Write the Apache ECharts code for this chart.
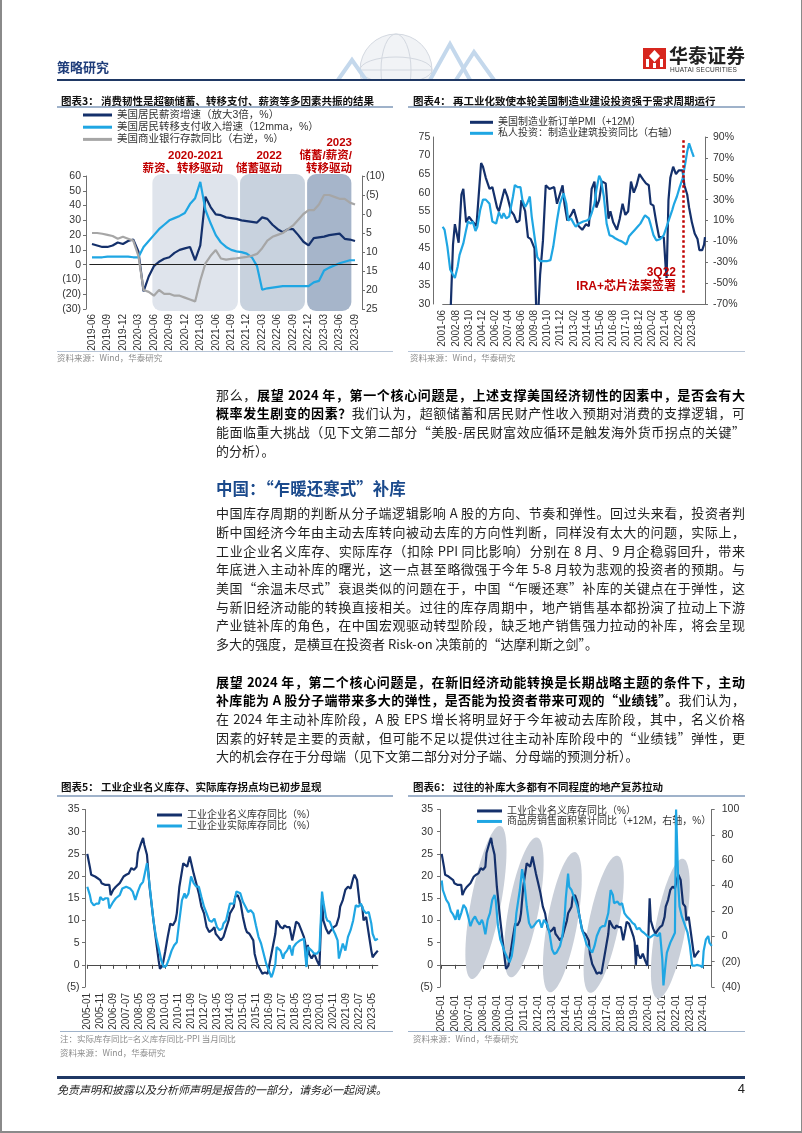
<!DOCTYPE html>
<html><head><meta charset="utf-8">
<script src="https://cdn.jsdelivr.net/npm/echarts@6/dist/echarts.min.js"></script>
<style>
html,body{margin:0;padding:0;background:#fff;}
#page{position:relative;width:802px;height:1133px;overflow:hidden;font-family:"Noto Sans CJK SC","Liberation Sans",sans-serif;color:#222;}
#chart{position:absolute;left:0;top:0;width:802px;height:1133px;}
.t{position:absolute;white-space:nowrap;}
.hl{position:absolute;}
.ttl{font-size:10.5px;font-weight:bold;color:#111;line-height:14px;}
.src{font-size:8.5px;color:#8c8c8c;line-height:12px;}
.red{font-size:11.5px;font-weight:bold;color:#c00000;line-height:14px;text-align:right;font-family:"Liberation Sans","Noto Sans CJK SC",sans-serif;}
.body{position:absolute;left:216px;width:529px;font-size:13px;line-height:18.7px;color:#222;}
.body .ln{height:18.7px;text-align:justify;text-align-last:justify;}
.body .ln.last{text-align-last:left;}
.body b{color:#000;}
</style></head>
<body><div id="page">
<div id="chart"></div>

<!-- header -->
<svg class="t" style="left:318px;top:30px" width="180" height="50">
 <g fill="none" stroke="#d3d8e0" stroke-width="1">
  <circle cx="78" cy="40" r="36" fill="#f1f3f6"/>
  <ellipse cx="78" cy="40" rx="36" ry="13"/>
  <ellipse cx="78" cy="40" rx="15" ry="36"/>
  <line x1="42" y1="40" x2="114" y2="40"/>
 </g>
 <g fill="none" stroke="#c4d8ec" stroke-width="4">
  <polyline points="112,50 132,14 152,50"/>
  <polyline points="138,50 156,22 176,50"/>
  <polyline points="20,50 34,30 48,50"/>
 </g>
</svg>
<div class="t" style="left:57px;top:58px;font-size:13px;font-weight:bold;color:#1f3d7a;line-height:18px">策略研究</div>
<svg class="t" style="left:643px;top:48px" width="23" height="21">
 <rect x="0" y="0" width="23" height="21" fill="#d7261e"/>
 <polygon points="11.5,2 17,8 11.5,14 6,8" fill="#fff"/>
 <rect x="3" y="11" width="3" height="8" fill="#fff"/>
 <rect x="17" y="11" width="3" height="8" fill="#fff"/>
 <rect x="10" y="15" width="3" height="5" fill="#fff"/>
</svg>
<div class="t" style="left:669px;top:44px;font-size:19px;font-weight:bold;color:#222;line-height:22px">华泰证券</div>
<div class="t" style="left:670px;top:66px;font-size:6.5px;color:#333;line-height:8px;letter-spacing:0.2px;font-family:'Liberation Sans'">HUATAI SECURITIES</div>
<div class="hl" style="left:57px;top:79px;width:688px;height:2px;background:#1f3864"></div>

<!-- chart titles / lines -->
<div class="t ttl" style="left:61px;top:94px">图表3： 消费韧性是超额储蓄、转移支付、薪资等多因素共振的结果</div>
<div class="hl" style="left:57px;top:106px;width:336px;height:1.5px;background:#9fb2ca"></div>
<div class="t ttl" style="left:413px;top:94px">图表4： 再工业化致使本轮美国制造业建设投资强于需求周期运行</div>
<div class="hl" style="left:408px;top:106px;width:337px;height:1.5px;background:#9fb2ca"></div>
<div class="hl" style="left:57px;top:351px;width:336px;height:1px;background:#b7c4d6"></div>
<div class="hl" style="left:408px;top:351px;width:337px;height:1px;background:#b7c4d6"></div>
<div class="t src" style="left:57px;top:351px">资料来源：Wind，华泰研究</div>
<div class="t src" style="left:410px;top:351px">资料来源：Wind，华泰研究</div>

<!-- chart 3 annotations -->
<div class="t red" style="right:579px;top:148px">2020-2021</div>
<div class="t red" style="right:579px;top:161px">薪资、转移驱动</div>
<div class="t red" style="right:520px;top:148px">2022</div>
<div class="t red" style="right:520px;top:161px">储蓄驱动</div>
<div class="t red" style="right:450px;top:135px">2023</div>
<div class="t red" style="right:450px;top:148px">储蓄/薪资/</div>
<div class="t red" style="right:450px;top:161px">转移驱动</div>
<!-- chart 4 annotations -->
<div class="t red" style="right:126px;top:265px;font-size:12px">3Q22</div>
<div class="t red" style="right:126px;top:279px;font-size:12px">IRA+芯片法案签署</div>

<!-- body -->
<div class="body" style="top:385.6px">
 <div class="ln">那么，<b>展望 2024 年，第一个核心问题是，上述支撑美国经济韧性的因素中，是否会有大</b></div>
 <div class="ln"><b>概率发生剧变的因素？</b>我们认为，超额储蓄和居民财产性收入预期对消费的支撑逻辑，可</div>
 <div class="ln">能面临重大挑战（见下文第二部分“美股-居民财富效应循环是触发海外货币拐点的关键”</div>
 <div class="ln last">的分析）。</div>
</div>
<div class="t" style="left:216px;top:476px;font-size:16.5px;line-height:24px;color:#1b4a8c;font-weight:bold">中国：“乍暖还寒式”补库</div>
<div class="body" style="top:504.2px">
 <div class="ln">中国库存周期的判断从分子端逻辑影响 A 股的方向、节奏和弹性。回过头来看，投资者判</div>
 <div class="ln">断中国经济今年由主动去库转向被动去库的方向性判断，同样没有太大的问题，实际上，</div>
 <div class="ln">工业企业名义库存、实际库存（扣除 PPI 同比影响）分别在 8 月、9 月企稳弱回升，带来</div>
 <div class="ln">年底进入主动补库的曙光，这一点甚至略微强于今年 5-8 月较为悲观的投资者的预期。与</div>
 <div class="ln">美国“余温未尽式”衰退类似的问题在于，中国“乍暖还寒”补库的关键点在于弹性，这</div>
 <div class="ln">与新旧经济动能的转换直接相关。过往的库存周期中，地产销售基本都扮演了拉动上下游</div>
 <div class="ln">产业链补库的角色，在中国宏观驱动转型阶段，缺乏地产销售强力拉动的补库，将会呈现</div>
 <div class="ln last">多大的强度，是横亘在投资者 Risk-on 决策前的“达摩利斯之剑”。</div>
</div>
<div class="body" style="top:672.6px">
 <div class="ln"><b>展望 2024 年，第二个核心问题是，在新旧经济动能转换是长期战略主题的条件下，主动</b></div>
 <div class="ln"><b>补库能为 A 股分子端带来多大的弹性，是否能为投资者带来可观的“业绩钱”。</b>我们认为，</div>
 <div class="ln">在 2024 年主动补库阶段，A 股 EPS 增长将明显好于今年被动去库阶段，其中，名义价格</div>
 <div class="ln">因素的好转是主要的贡献，但可能不足以提供过往主动补库阶段中的“业绩钱”弹性，更</div>
 <div class="ln last">大的机会存在于分母端（见下文第二部分对分子端、分母端的预测分析）。</div>
</div>

<div class="t ttl" style="left:61px;top:780px">图表5： 工业企业名义库存、实际库存拐点均已初步显现</div>
<div class="hl" style="left:57px;top:795px;width:336px;height:1.5px;background:#9fb2ca"></div>
<div class="t ttl" style="left:413px;top:780px">图表6： 过往的补库大多都有不同程度的地产复苏拉动</div>
<div class="hl" style="left:408px;top:795px;width:337px;height:1.5px;background:#9fb2ca"></div>
<div class="hl" style="left:60px;top:1031px;width:333px;height:1px;background:#9fb2ca"></div>
<div class="hl" style="left:408px;top:1031px;width:337px;height:1px;background:#9fb2ca"></div>
<div class="t src" style="left:60px;top:1032px">注：实际库存同比=名义库存同比-PPI 当月同比</div>
<div class="t src" style="left:60px;top:1046px">资料来源：Wind，华泰研究</div>
<div class="t src" style="left:413px;top:1032px">资料来源：Wind，华泰研究</div>

<!-- footer -->
<div class="hl" style="left:57px;top:1076px;width:688px;height:2.5px;background:#1f3864"></div>
<div class="t" style="left:57px;top:1081px;font-size:11px;font-style:italic;line-height:16px;color:#222">免责声明和披露以及分析师声明是报告的一部分，请务必一起阅读。</div>
<div class="t" style="right:57px;top:1081px;font-size:13px;line-height:16px;color:#222;font-family:'Liberation Sans'">4</div>
<div class="hl" style="left:0;top:0;width:1.5px;height:1133px;background:#8a8a8a"></div>
<div class="hl" style="right:0;top:0;width:1.5px;height:1133px;background:#8a8a8a"></div>
<div class="hl" style="left:0;top:1131px;width:802px;height:1.5px;background:#8a8a8a"></div>
</div>

<script>
// ================= DATA =================
function monthRange(a, b) {
  let [y, m] = a.split('-').map(Number);
  const [y2, m2] = b.split('-').map(Number);
  const out = [];
  while (y < y2 || (y === y2 && m <= m2)) {
    out.push(y + '-' + String(m).padStart(2, '0'));
    m++; if (m > 12) { m = 1; y++; }
  }
  return out;
}

// ---- Chart 3 (monthly 2019-06 .. 2023-09)
const dates3 = monthRange('2019-06', '2023-09');
const wage3 = [14,13,12,12,13,15,14,16,17,9,
  -18,-8,-1,2,4,5,8,10,11,12,
  3,13,46,39,34,33.5,32,31.5,31,30,
  29.5,29,28.5,32,31,27,24,22,24,24,
  20,15.5,13,18,18.5,19,20,20.5,21,17.5,
  17,16];
const transfer3 = [5,5,5,5.5,5.5,5.5,5.5,5.5,5,5,
  12,16,20,24,27,30,31.5,33,35,41,
  45,56,37,28,20,15,12,10,9,8.5,
  7.5,5,-1,-17,-16,-15.5,-15,-14.5,-14.5,-14.5,
  -14.5,-14.5,-14.5,-12,-11,-4,-2,-0.5,1,2,
  3,3];
const deposit3 = [5,5,5.2,5.5,5.8,6.5,6,6.5,7,11,
  20,20.5,21.5,20,21,21,21.5,21.5,22,22.5,
  23,17.5,13,11,9.5,11.7,12,11.8,11.7,11.5,
  11.3,11,10.5,9,7,6,5.5,5,4,3,
  1.5,0,-1,-1,-2.5,-5,-5,-4.5,-4,-4,
  -3,-2.5];
const shade3 = [['2020-06','2021-10'],['2021-11','2022-11'],['2022-12','2023-08']];
const names3 = ['美国居民薪资增速（放大3倍，%）','美国居民转移支付收入增速（12mma，%）','美国商业银行存款同比（右逆，%）'];

// ---- Chart 4 (monthly axis 2001-06 .. 2024-10; labels 2001-06 .. 2023-08 every 14 months)
const dates4 = monthRange('2001-06', '2024-10');
const lastLabel4 = '2023-08';
const pmi4 = [['2002-02',25],['2002-05',46],['2002-07',51.5],['2002-09',49],['2002-11',46.5],['2003-02',59.5],['2003-04',61],['2003-07',52],['2003-10',53.5],['2004-01',52.5],['2004-06',51],['2004-11',68],['2005-01',67],['2005-04',64],['2005-08',61],['2005-11',61.5],['2006-04',56],['2006-06',55],['2006-09',58],['2006-12',61],['2007-03',59],['2007-07',55],['2007-10',54],['2008-01',52],['2008-04',52.5],['2008-06',58],['2008-10',55],['2009-01',48],['2009-04',47.5],['2009-06',48],['2009-08',45],['2009-10',27],['2009-12',28],['2010-02',38],['2010-05',47],['2010-08',62],['2010-12',61],['2011-02',60.5],['2011-05',61.5],['2011-08',57],['2011-11',59.5],['2012-02',62],['2012-04',57],['2012-07',52.5],['2012-11',54],['2013-02',55.5],['2013-04',55],['2013-07',51],['2013-11',50],['2014-03',51.5],['2014-06',51],['2014-09',61],['2014-12',63],['2015-02',56],['2015-05',58],['2015-08',63],['2015-12',62.5],['2016-03',53],['2016-05',55],['2016-08',52],['2016-12',50],['2017-03',53],['2017-06',57],['2017-09',54],['2017-12',55],['2018-03',63],['2018-06',60],['2018-09',62],['2018-12',65],['2019-04',63.5],['2019-07',62.5],['2019-10',62],['2019-12',57],['2020-03',56.5],['2020-06',52],['2020-09',48],['2021-02',48],['2021-04',40],['2021-05',37],['2021-07',58],['2021-09',64],['2021-12',67],['2022-03',65],['2022-06',66],['2022-10',66],['2022-12',62],['2023-03',59.5],['2023-05',56],['2023-08',52],['2023-11',49],['2024-02',47.5],['2024-04',44.5],['2024-07',44.5],['2024-09',46],['2024-10',48]];
const invest4 = [['2001-06',4],['2001-08',1],['2001-11',-15],['2002-02',-37],['2002-05',-42],['2002-07',-45],['2002-10',-34],['2002-12',-23],['2003-04',-12],['2003-07',1],['2003-09',9],['2003-12',7],['2004-02',9],['2004-05',0],['2004-07',4],['2004-10',20],['2005-01',30],['2005-04',30],['2005-08',26],['2005-11',9],['2006-03',7],['2006-06',18],['2006-09',12],['2006-11',17],['2007-02',12],['2007-05',14],['2007-09',33],['2007-11',44],['2008-02',42],['2008-05',42],['2008-07',30],['2008-10',23],['2008-12',26],['2009-03',33],['2009-05',14],['2009-09',-12],['2009-11',-25],['2010-02',-29],['2010-09',-29],['2011-01',-28],['2011-04',-15],['2011-08',10],['2011-11',26],['2012-03',36],['2012-06',26],['2012-08',10],['2012-11',12],['2013-02',7],['2013-04',4],['2013-07',7],['2013-09',7],['2013-12',9],['2014-04',10],['2014-07',12],['2014-09',17],['2014-12',26],['2015-02',39],['2015-05',53],['2015-07',49],['2015-10',33],['2016-01',7],['2016-04',-4],['2016-07',-5],['2016-10',-7],['2017-02',-9],['2017-05',-10],['2017-10',-13],['2018-01',-5],['2018-04',-2],['2018-07',1],['2018-10',4],['2019-01',7],['2019-04',12],['2019-06',15],['2019-10',12],['2019-12',6],['2020-03',-4],['2020-06',-9],['2020-10',-8],['2021-02',-4],['2021-05',4],['2021-08',12],['2021-11',20],['2022-01',26],['2022-04',33],['2022-07',42],['2022-10',50],['2023-01',65],['2023-03',76],['2023-05',84],['2023-08',76],['2023-10',71]];
const signDate4 = '2022-11';
const names4 = ['美国制造业新订单PMI（+12M）','私人投资：制造业建筑投资同比（右轴）'];

// ---- Chart 5 (monthly axis 2005-01 .. 2023-09)
const dates5 = monthRange('2005-01', '2023-09');
const nominalInv = [['2005-01',25],['2005-03',22],['2005-04',20.3],['2005-07',19.9],['2005-09',19.5],['2005-11',19.1],['2005-12',18.4],['2006-03',18],['2006-04',17.6],['2006-06',18],['2006-07',15.7],['2006-09',16.9],['2006-11',17.6],['2007-02',18.4],['2007-03',18.7],['2007-05',19.9],['2007-07',20.3],['2007-09',20.6],['2007-11',21.8],['2008-01',21.4],['2008-03',22.1],['2008-04',25.2],['2008-06',27],['2008-08',28.6],['2008-09',27],['2008-11',24.8],['2009-01',17.6],['2009-04',10],['2009-06',5.5],['2009-08',1],['2009-09',-0.9],['2009-11',-0.2],['2010-01',2.9],['2010-03',6.3],['2010-05',9.3],['2010-07',8.9],['2010-09',10],['2010-10',11.6],['2010-12',17.6],['2011-03',22.9],['2011-04',23.3],['2011-06',22.1],['2011-08',24.4],['2011-09',24.4],['2011-11',20.6],['2012-01',18.4],['2012-03',16.1],['2012-05',13.1],['2012-07',11.6],['2012-09',8.5],['2012-11',7.4],['2013-01',7.8],['2013-03',8.5],['2013-04',7],['2013-06',6.3],['2013-08',5.5],['2013-10',6.3],['2013-12',8.2],['2014-02',10],['2014-03',11.6],['2014-06',13.1],['2014-07',15.3],['2014-09',15.7],['2014-11',14.2],['2015-01',10.8],['2015-03',8.2],['2015-04',7.4],['2015-06',7],['2015-09',5.5],['2015-10',2.5],['2015-12',0.2],['2016-02',-0.9],['2016-04',-2],['2016-06',-1.7],['2016-08',-2],['2016-10',1],['2016-12',4],['2017-02',7],['2017-03',10],['2017-06',8.5],['2017-08',8.2],['2017-09',8.9],['2017-11',8.5],['2018-01',8.5],['2018-03',5.5],['2018-05',8.2],['2018-06',9.7],['2018-08',9.3],['2018-10',7.8],['2018-12',6.3],['2019-01',5],['2019-02',0],['2019-03',4.5],['2019-04',2.5],['2019-06',1.4],['2019-08',2.5],['2019-10',1],['2019-12',-0.2],['2020-02',15],['2020-03',10],['2020-05',8.2],['2020-07',7],['2020-09',7.8],['2020-11',8.5],['2021-01',8.9],['2021-03',10.8],['2021-04',13.1],['2021-06',14.6],['2021-08',16.9],['2021-10',17.6],['2021-12',17.2],['2022-02',19.5],['2022-03',20.3],['2022-05',19.1],['2022-07',13.8],['2022-09',13.1],['2022-10',10],['2022-12',10.8],['2023-02',7],['2023-04',3.2],['2023-05',1.7],['2023-07',2.5],['2023-09',3.2]];
const realInv = [['2005-01',17.6],['2005-03',15.7],['2005-04',14.2],['2005-06',13.4],['2005-08',13.8],['2005-10',13.8],['2005-11',15.3],['2006-01',14.6],['2006-03',15],['2006-05',15],['2006-06',12.7],['2006-09',14.2],['2006-11',15],['2007-02',15.7],['2007-04',17.2],['2007-07',17.6],['2007-10',17.2],['2007-12',16.5],['2008-02',14.6],['2008-04',16.5],['2008-06',18],['2008-08',18.7],['2008-11',22.9],['2008-12',20.6],['2009-02',15.3],['2009-04',10],['2009-06',6.3],['2009-09',2.5],['2009-10',1],['2009-12',-0.5],['2010-02',-0.2],['2010-04',1.4],['2010-06',3.2],['2010-08',4.4],['2010-10',5.1],['2010-12',10],['2011-02',14.6],['2011-04',16.1],['2011-05',15],['2011-07',16.1],['2011-09',19.9],['2011-11',18.4],['2012-01',17.6],['2012-03',17.6],['2012-05',15.3],['2012-07',13.1],['2012-09',11.6],['2012-11',10],['2013-01',9.7],['2013-03',10.4],['2013-05',8.5],['2013-07',7.8],['2013-09',8.2],['2013-10',9.3],['2013-12',10],['2014-03',13.8],['2014-04',14.2],['2014-06',13.8],['2014-08',16.5],['2014-09',16.9],['2014-11',16.1],['2015-01',14.2],['2015-03',13.1],['2015-05',11.9],['2015-07',12.3],['2015-09',11.6],['2015-11',8.9],['2016-01',6.3],['2016-03',4.8],['2016-05',2.5],['2016-07',0.2],['2016-09',-1.3],['2016-11',-2.8],['2016-12',-2],['2017-02',0.2],['2017-03',4],['2017-06',3.2],['2017-08',1.4],['2017-09',2.5],['2017-11',3.2],['2018-01',4.4],['2018-03',2.1],['2018-04',4],['2018-06',4.8],['2018-09',5.5],['2018-12',5.9],['2019-01',6.3],['2019-02',-0.5],['2019-03',4],['2019-06',3.2],['2019-08',2.5],['2019-10',2.5],['2019-12',3.2],['2020-02',16.5],['2020-03',14.2],['2020-05',10.8],['2020-06',10],['2020-08',9.7],['2020-10',8.2],['2020-12',7],['2021-02',5.5],['2021-03',1.4],['2021-04',1.1],['2021-06',4.8],['2021-08',3.2],['2021-10',6.3],['2021-12',7.8],['2022-02',10],['2022-04',13.4],['2022-06',13.1],['2022-08',13.8],['2022-10',12.3],['2022-12',11.6],['2023-02',11.9],['2023-04',9.3],['2023-05',7],['2023-07',5.5],['2023-09',5.9]];
const names5 = ['工业企业名义库存同比（%）','工业企业实际库存同比（%）'];

// ---- Chart 6 (monthly axis 2005-01 .. 2024-08)
const dates6 = monthRange('2005-01', '2024-08');
const houseSales6 = [['2005-01',44],['2005-02',36.5],['2005-05',28.7],['2005-07',26],['2005-09',19.6],['2005-11',17],['2006-01',13],['2006-03',21],['2006-04',13],['2006-06',18.3],['2006-08',24.8],['2006-10',22.2],['2006-12',15.7],['2007-02',8],['2007-04',13],['2007-06',15.7],['2007-08',11.8],['2007-10',9.3],['2007-12',13],['2008-01',10.6],['2008-03',1.5],['2008-05',13],['2008-07',18.3],['2008-09',28.7],['2008-11',32.6],['2008-12',28.7],['2009-02',8],['2009-04',-2.4],['2009-06',-7.6],['2009-08',-12.8],['2009-10',-16.7],['2009-12',-20.6],['2010-02',-15.4],['2010-04',-2.4],['2010-06',18.3],['2010-09',36.5],['2010-11',53],['2011-01',41.7],['2011-03',23.5],['2011-05',10.6],['2011-07',6.7],['2011-09',8],['2011-12',11.8],['2012-02',13],['2012-04',6.7],['2012-06',13],['2012-09',9.3],['2012-11',1.5],['2013-01',-10.2],['2013-03',-14],['2013-05',-12.8],['2013-08',-7.6],['2013-10',0.2],['2013-12',15.7],['2014-01',30],['2014-03',49.4],['2014-04',39],['2014-06',36.5],['2014-08',31.3],['2014-11',23.5],['2015-01',15.7],['2015-03',5.4],['2015-05',0.2],['2015-07',-6.3],['2015-10',-10.2],['2015-12',-12.8],['2016-02',-7.6],['2016-04',0.2],['2016-07',6.7],['2016-09',8],['2016-11',8],['2017-02',18.3],['2017-04',36.5],['2017-06',32.6],['2017-07',26.1],['2017-10',27.4],['2017-12',24.8],['2018-02',26.1],['2018-04',18.3],['2018-06',15.7],['2018-09',13],['2018-11',10.6],['2019-01',9.3],['2019-03',5.4],['2019-05',6.7],['2019-07',4.1],['2019-09',2.8],['2019-12',0.2],['2020-02',-1.1],['2020-04',0.2],['2020-06',1.5],['2020-09',0.2],['2020-11',2.8],['2021-01',-18],['2021-02',-38.7],['2021-04',-20.6],['2021-05',-12.8],['2021-08',-5],['2021-10',-1.1],['2021-12',2.8],['2022-01',100],['2022-03',39],['2022-04',23.5],['2022-06',15.7],['2022-08',10.6],['2022-11',2.8],['2023-01',-7.6],['2023-03',-23.2],['2023-05',-23.2],['2023-07',-22.6],['2023-10',-23.2],['2023-12',-24.4],['2024-01',-11.5],['2024-03',-2.4],['2024-05',0.2],['2024-06',-5],['2024-08',-7.6]];
// recovery phases: [start date, low value, end date, high value] on left axis
const recovery6 = [['2007-03',-3.2,'2009-04',31.3],['2010-01',-2.8,'2011-12',28.7],['2012-11',-6.2,'2014-09',25.4],['2015-10',-6.3,'2017-10',24.6],['2020-09',-7.6,'2022-07',23.9]];
const names6 = ['工业企业名义库存同比（%）','商品房销售面积累计同比（+12M，右轴，%）'];

// ================= HELPERS =================
const NAVY = '#14306b', BLUE = '#1fa6e3', GRAY = '#a6a6a6';
const SHADE_COLORS = ['#dfe4ec', '#c8d2de', '#a6b5ca'];
const FONT = '"Liberation Sans","Noto Sans CJK SC",sans-serif';
const AX = '#6f6f6f';
const paren = v => v < 0 ? '(' + (-v) + ')' : String(v);
const pct = v => v + '%';
function pairs(cats, list) {
  return list.map(p => [cats.indexOf(p[0]), p[1]]).filter(p => p[0] >= 0);
}
function xCat(gridIndex, data, interval, margin, boundaryGap, line) {
  return { type: 'category', gridIndex, data, boundaryGap,
    axisLine: { show: !!line, onZero: false, lineStyle: { color: AX } },
    axisTick: { show: false },
    axisLabel: { interval, rotate: 90, margin, fontSize: 10, color: '#333', fontFamily: FONT },
    splitLine: { show: false } };
}
function xZero(gridIndex, data, interval) {
  return { type: 'category', gridIndex, data, boundaryGap: false, position: 'top',
    axisLine: { show: true, onZero: true, lineStyle: { color: '#4a4a4a', width: 1 } },
    axisTick: { show: true, inside: true, interval, length: 4, lineStyle: { color: '#4a4a4a' } },
    axisLabel: { show: false }, splitLine: { show: false } };
}
function yVal(gridIndex, min, max, interval, position, offset, fmt, margin, tick, inverse) {
  return { type: 'value', gridIndex, min, max, interval, position, offset, inverse: !!inverse,
    axisLine: { show: true, lineStyle: { color: AX } },
    axisTick: { show: tick, length: 3, lineStyle: { color: AX } },
    axisLabel: { formatter: fmt, fontSize: 10.5, color: '#333', margin, fontFamily: FONT },
    splitLine: { show: false } };
}
function legend(left, top, names, itemWidth, lineHeight, fontSize) {
  return { left, top, orient: 'vertical', itemWidth, itemHeight: 3, itemGap: 0, icon: 'rect',
    padding: 0, selectedMode: false, data: names,
    textStyle: { fontSize: fontSize || 10, color: '#333', fontFamily: FONT, lineHeight } };
}
function line(name, xi, yi, data, color, z) {
  return { name, type: 'line', xAxisIndex: xi, yAxisIndex: yi, data, showSymbol: false, symbol: 'none',
    lineStyle: { color, width: 2.2 }, itemStyle: { color }, z: z || 3, silent: true };
}

// ================= OPTION =================
const shadeData = shade3.map(s => [dates3.indexOf(s[0]), dates3.indexOf(s[1])]);
const ellipseData = recovery6.map(e => [dates6.indexOf(e[0]), e[1], dates6.indexOf(e[2]), e[3]]);
const signIdx = dates4.indexOf(signDate4);
const lastLabelIdx4 = dates4.indexOf(lastLabel4);

const x4 = xCat(1, dates4, 13, 6, false, true);
x4.axisLabel.interval = (idx) => idx % 14 === 0 && idx <= lastLabelIdx4;

const option = {
  animation: false,
  grid: [
    { left: 89.4, width: 268.2, top: 176, height: 133 },
    { left: 442.7, width: 262.3, top: 137, height: 167 },
    { left: 87.3, width: 290.5, top: 809.5, height: 177.5 },
    { left: 441.7, width: 270, top: 809.5, height: 177.5 }
  ],
  legend: [
    legend(83, 108.9, names3, 29, 12.2, 10.5),
    legend(470, 116.8, names4, 23, 11),
    legend(157, 809.5, names5, 25, 11),
    legend(477, 805.7, names6, 25, 10.5)
  ],
  xAxis: [
    xCat(0, dates3, 2, 5, true, false),
    x4,
    xCat(2, dates5, 9, 6, false, false),
    xZero(2, dates5, 9),
    xCat(3, dates6, 11, 8, false, false),
    xZero(3, dates6, 11)
  ],
  yAxis: [
    yVal(0, -30, 60, 10, 'left', 3.4, paren, 5, true),
    yVal(0, -10, 25, 5, 'right', 4.4, paren, 4, true, true),
    yVal(1, 30, 75, 5, 'left', 9.4, null, 3, false),
    yVal(1, -70, 90, 20, 'right', 0, pct, 8, true),
    yVal(2, -5, 35, 5, 'left', 2.3, paren, 5.5, true),
    yVal(3, -5, 35, 5, 'left', 1.7, paren, 7, true),
    yVal(3, -40, 100, 20, 'right', 0, paren, 10, true)
  ],
  series: [
    // chart 3
    { name: 'shade3', type: 'custom', xAxisIndex: 0, yAxisIndex: 0, data: shadeData, z: 1, silent: true,
      encode: { x: [0, 1] },
      renderItem: function (params, api) {
        const a = api.coord([api.value(0), 60]);
        const b = api.coord([api.value(1), -30]);
        return { type: 'rect', shape: { x: a[0] - 1.5, y: a[1] - 2, width: b[0] - a[0] + 3, height: b[1] - a[1] + 4, r: 9 },
          style: { fill: SHADE_COLORS[params.dataIndex] } };
      } },
    Object.assign(line(names3[0], 0, 0, wage3, NAVY, 3), {
      markLine: { silent: true, symbol: ['none', 'none'], label: { show: false },
        lineStyle: { color: '#222', width: 1, type: 'solid' }, data: [{ yAxis: 0 }] } }),
    line(names3[1], 0, 0, transfer3, BLUE, 4),
    line(names3[2], 0, 1, deposit3, GRAY, 5),
    // chart 4
    line(names4[0], 1, 2, pairs(dates4, pmi4), NAVY, 3),
    Object.assign(line(names4[1], 1, 3, pairs(dates4, invest4), BLUE, 4), {
      markLine: { silent: true, symbol: ['none', 'none'], label: { show: false },
        lineStyle: { color: '#c00000', width: 2.5, type: 'dotted' },
        data: [[{ coord: [signIdx, 87] }, { coord: [signIdx, -60] }]] } }),
    // chart 5
    line(names5[0], 2, 4, pairs(dates5, nominalInv), NAVY, 3),
    line(names5[1], 2, 4, pairs(dates5, realInv), BLUE, 4),
    // chart 6
    { name: 'recovery6', type: 'custom', xAxisIndex: 4, yAxisIndex: 5, data: ellipseData, z: 1, silent: true,
      encode: { x: [0, 2], y: [1, 3] },
      renderItem: function (params, api) {
        const a = api.coord([api.value(0), api.value(1)]);
        const b = api.coord([api.value(2), api.value(3)]);
        const cx = (a[0] + b[0]) / 2, cy = (a[1] + b[1]) / 2;
        const dx = b[0] - a[0], dy = b[1] - a[1];
        const L = Math.sqrt(dx * dx + dy * dy) / 2, ang = Math.atan2(dy, dx), R = 15;
        const pts = [];
        for (let k = 0; k < 72; k++) {
          const t = k / 72 * 2 * Math.PI, ex = L * Math.cos(t), ey = R * Math.sin(t);
          pts.push([cx + ex * Math.cos(ang) - ey * Math.sin(ang), cy + ex * Math.sin(ang) + ey * Math.cos(ang)]);
        }
        return { type: 'polygon', shape: { points: pts }, style: { fill: '#c9cfd9' } };
      } },
    line(names6[0], 4, 5, pairs(dates6, nominalInv), NAVY, 3),
    line(names6[1], 4, 6, pairs(dates6, houseSales6), BLUE, 4)
  ]
};
const chart = echarts.init(document.getElementById('chart'), null, { renderer: 'canvas' });
chart.setOption(option);
</script>
</body></html>
